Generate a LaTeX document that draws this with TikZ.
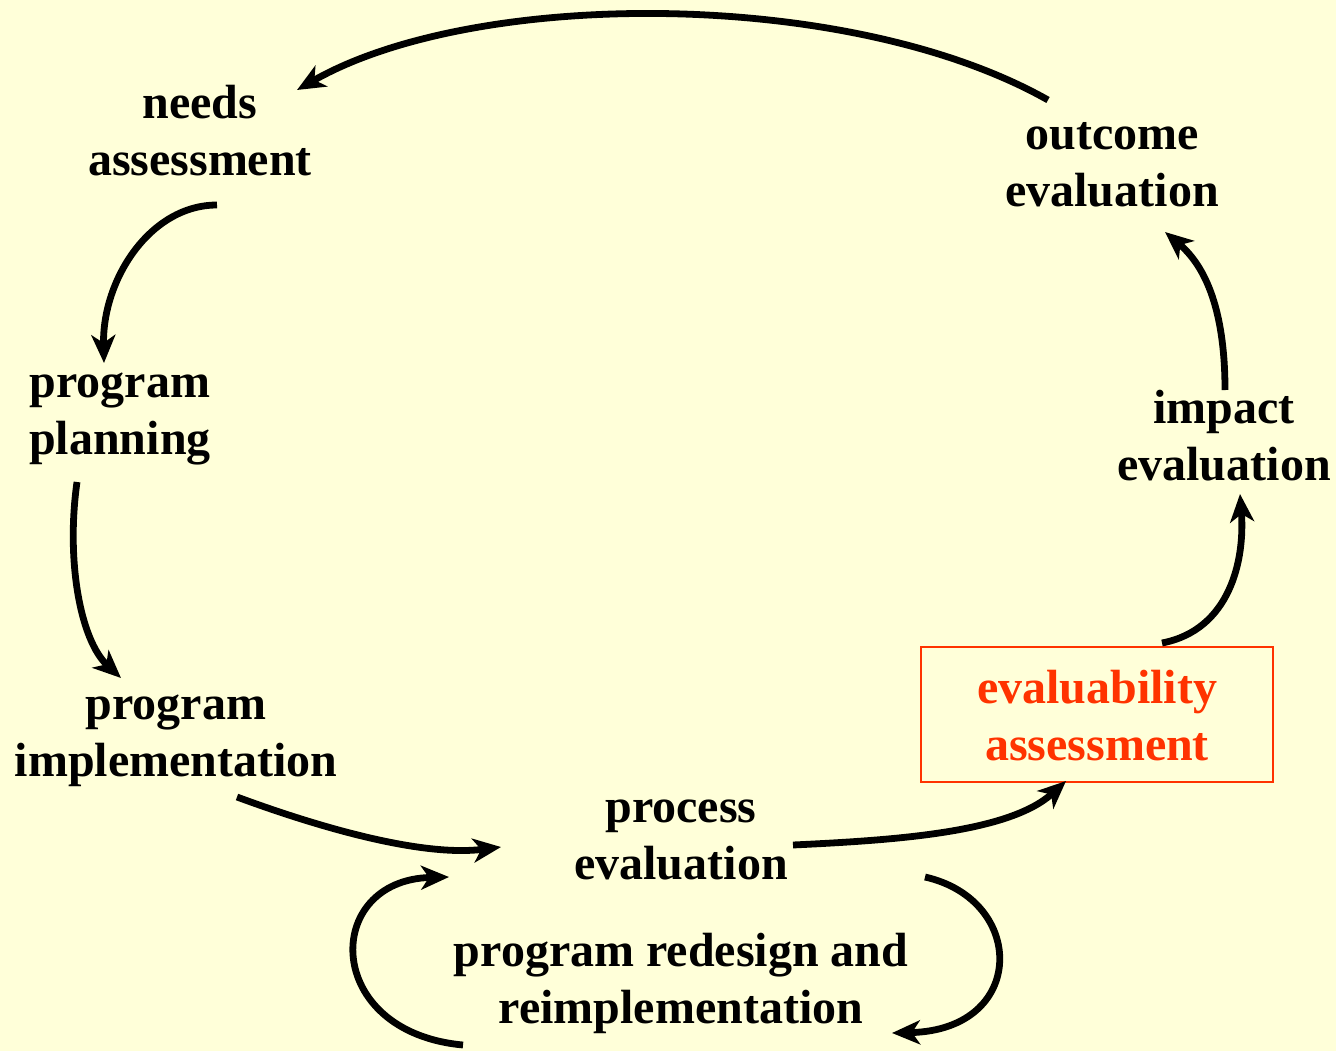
\documentclass[tikz,border=0pt]{standalone}
\usepackage{fontspec}
\setmainfont{Liberation Serif}
\usetikzlibrary{arrows.meta}
\definecolor{bgyellow}{HTML}{FFFFD9}
\definecolor{evalred}{HTML}{FF3300}
\begin{document}
\begin{tikzpicture}[x=1pt,y=-1pt,
  lbl/.style={align=center,inner sep=0pt,font=\fontsize{48}{57}\selectfont\bfseries},
  flow/.style={line width=6.8pt,-{Stealth[length=28pt,width=24pt,inset=8pt]}}]
\fill[bgyellow] (0,0) rectangle (1336,1051);
\useasboundingbox (0,0) rectangle (1336,1051);
\node[lbl] (needs) at (200,136) {\strut needs\\\strut assessment};
\node[lbl] (outcome) at (1112,167) {\strut outcome\\\strut evaluation};
\node[lbl] (planning) at (120,415) {\strut program\\\strut planning};
\node[lbl] (impl) at (176,737) {\strut program\\\strut implementation};
\node[lbl] (process) at (681,840) {\strut process\\\strut evaluation};
\node[lbl] (redesign) at (681,984) {\strut program redesign and\\\strut reimplementation};
\node[lbl] (impact) at (1224,441) {\strut impact\\\strut evaluation};
\node[draw=evalred,line width=2pt,minimum width=352pt,minimum height=135pt,inner sep=0pt] (evalbox) at (1097,714.5) {};
\node[lbl,text=evalred] (evalass) at (1097,721) {\strut evaluability\\\strut assessment};
% connector end points
\coordinate (o1) at (1048,100); \coordinate (n1) at (297,90);
\coordinate (n2) at (217,205); \coordinate (p1) at (104,363);
\coordinate (p2) at (77,482); \coordinate (i1) at (121,678);
\coordinate (i2) at (237,797); \coordinate (e1) at (501,847);
\coordinate (e2) at (793,845); \coordinate (v1) at (1066,781);
\coordinate (v2) at (1162,643); \coordinate (m1) at (1240,494);
\coordinate (m2) at (1225,390); \coordinate (u1) at (1165,232);
\coordinate (l1) at (463,1045); \coordinate (l2) at (449,877);
\coordinate (r1) at (925,877); \coordinate (r2) at (892,1033);
\draw[flow] (o1) .. controls (850,-12) and (475,-12) .. (n1);
\draw[flow] (n2) .. controls (150,205) and (102,280) .. (p1);
\draw[flow] (p2) .. controls (66,560) and (80,640) .. (i1);
\draw[flow] (i2) .. controls (340,835) and (430,856) .. (e1);
\draw[flow] (e2) .. controls (900,840) and (1010,832) .. (v1);
\draw[flow] (v2) .. controls (1230,630) and (1245,560) .. (m1);
\draw[flow] (m2) .. controls (1225,320) and (1210,270) .. (u1);
\draw[flow] (l1) .. controls (322,1032) and (322,880) .. (l2);
\draw[flow] (r1) .. controls (1027,900) and (1027,1030) .. (r2);
\end{tikzpicture}
\end{document}
